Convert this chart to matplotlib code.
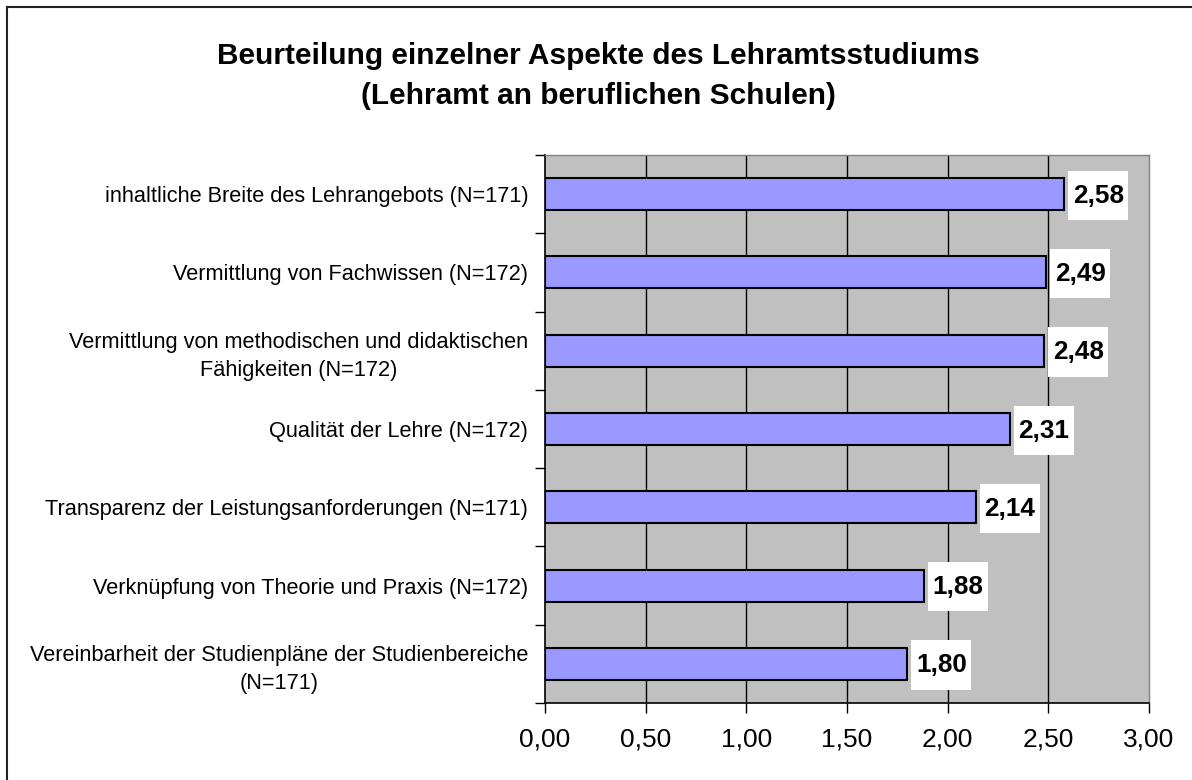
import matplotlib
matplotlib.use("Agg")
import matplotlib.pyplot as plt
from matplotlib.patches import Rectangle
from matplotlib.lines import Line2D

plt.rcParams['font.family'] = ['Liberation Sans', 'DejaVu Sans']

title = "Beurteilung einzelner Aspekte des Lehramtsstudiums\n(Lehramt an beruflichen Schulen)"
categories = [
    "inhaltliche Breite des Lehrangebots (N=171)",
    "Vermittlung von Fachwissen (N=172)",
    "Vermittlung von methodischen und didaktischen\nFähigkeiten (N=172)",
    "Qualität der Lehre (N=172)",
    "Transparenz der Leistungsanforderungen (N=171)",
    "Verknüpfung von Theorie und Praxis (N=172)",
    "Vereinbarheit der Studienpläne der Studienbereiche\n(N=171)",
]
values = [2.58, 2.49, 2.48, 2.31, 2.14, 1.88, 1.80]
xticks = [0.0, 0.5, 1.0, 1.5, 2.0, 2.5, 3.0]
xtick_labels = ["0,00", "0,50", "1,00", "1,50", "2,00", "2,50", "3,00"]

W, H = 1192, 780
fig = plt.figure(figsize=(W / 100, H / 100), dpi=100)
ax = fig.add_axes([545 / W, 1 - 703 / H, (1149 - 545) / W, (703 - 155) / H])
ax.set_facecolor('#C0C0C0')

n = len(categories)
pos = list(range(n))
ax.barh(pos, values, height=0.41, color='#9999FF', edgecolor='black', linewidth=1.5, zorder=3)

ax.set_xlim(0, 3)
ax.set_ylim(n - 0.5, -0.5)
ax.set_xticks(xticks)
ax.set_xticklabels(xtick_labels, fontsize=19)
ax.set_yticks([i - 0.5 for i in range(n + 1)])
ax.set_yticklabels([])
ax.set_yticks(pos, minor=True)
ax.set_yticklabels(categories, minor=True, fontsize=15.7, multialignment='center')
for lbl in ax.get_yticklabels(minor=True):
    lbl.set_linespacing(1.4)
ax.tick_params(axis='y', which='minor', length=0, pad=12)
ax.tick_params(axis='y', which='major', length=7, width=1, direction='out')
ax.tick_params(axis='x', length=7, width=1, direction='out', pad=11)

for x in xticks[1:-1]:
    ax.axvline(x, color='black', linewidth=1, zorder=1)

for s in ['top', 'right']:
    ax.spines[s].set_color('#808080')
    ax.spines[s].set_linewidth(1)
for s in ['left', 'bottom']:
    ax.spines[s].set_color('black')
    ax.spines[s].set_linewidth(1.2)

px = 3.0 / (1149 - 545)
box_w = 60 * px
gap = 4 * px
for i, v in enumerate(values):
    ax.add_patch(Rectangle((v + gap, i - 0.30), box_w, 0.63, facecolor='white',
                           edgecolor='none', zorder=4, clip_on=False))
    ax.text(v + gap + box_w / 2, i + 0.02, f"{v:.2f}".replace('.', ','), ha='center', va='center',
            fontsize=18.8, fontweight='bold', zorder=5)

fig.text(598 / W, 1 - 76 / H, title, ha='center', va='center', fontsize=21.5,
         fontweight='bold', linespacing=1.5)

fig.add_artist(Line2D([7 / W, 1], [1 - 7 / H, 1 - 7 / H], color='#222222', linewidth=1.5,
                      transform=fig.transFigure))
fig.add_artist(Line2D([7 / W, 7 / W], [0, 1 - 7 / H], color='#222222', linewidth=1.5,
                      transform=fig.transFigure))

fig.savefig("out.png", dpi=100)
